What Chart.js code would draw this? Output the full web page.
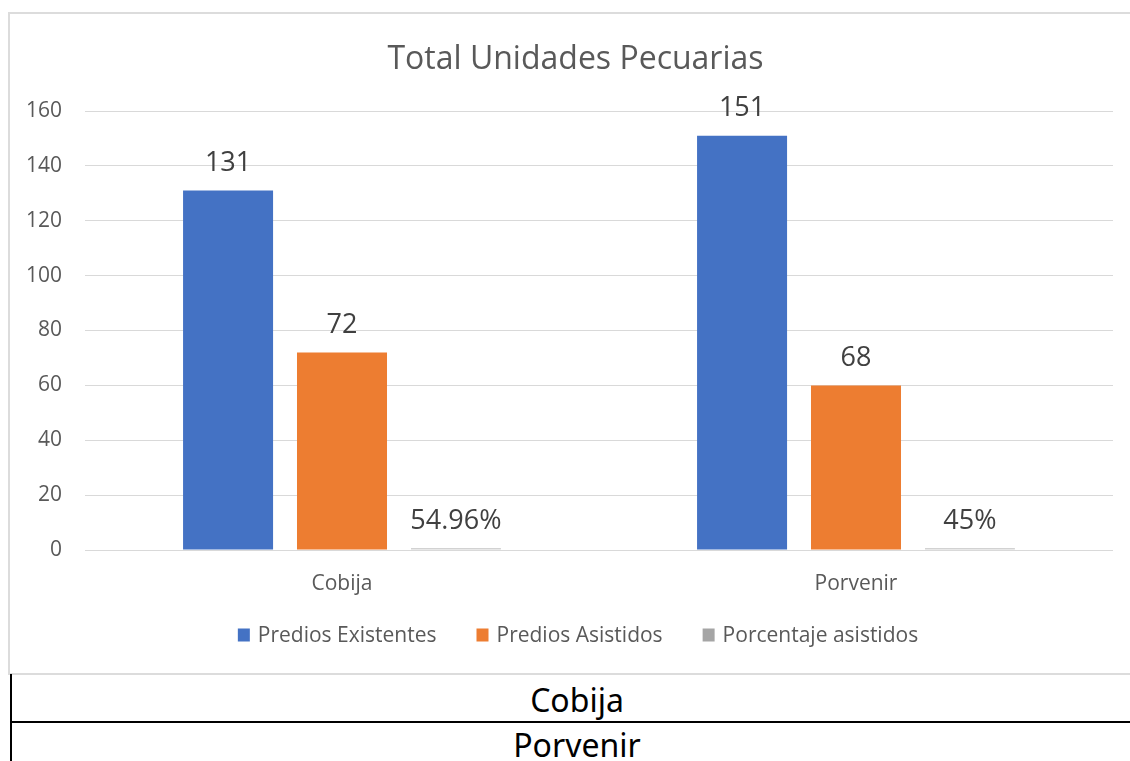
<!DOCTYPE html>
<html>
<head>
<meta charset="utf-8">
<script src="https://cdn.jsdelivr.net/npm/chart.js@4/dist/chart.umd.min.js"></script>
<style>
  html, body { margin: 0; padding: 0; background: #fff; width: 1130px; height: 761px; overflow: hidden; }
  #frame { position: absolute; left: 8px; top: 12px; width: 1134px; height: 659px; border: 2px solid #dcdcdc; }
  #chart { position: absolute; left: 0; top: 0; }
  #vline { position: absolute; left: 10px; top: 674px; width: 2px; height: 90px; background: #000; }
  #hline { position: absolute; left: 10px; top: 721px; width: 1130px; height: 2px; background: #000; }
  .cell { position: absolute; left: 10px; width: 1134px; text-align: center; font-family: "Noto Sans", "Open Sans", sans-serif; font-size: 32px; color: #000; line-height: 40px; }
</style>
</head>
<body>
<div id="frame"><canvas id="chart" width="1134" height="659"></canvas></div>
<div id="vline"></div>
<div id="hline"></div>
<div class="cell" style="top:680px;">Cobija</div>
<div class="cell" style="top:725px;">Porvenir</div>
<script>
const categories = ["Cobija", "Porvenir"];
const seriesNames = ["Predios Existentes", "Predios Asistidos", "Porcentaje asistidos"];
const prediosExistentes = [131, 151];
const prediosAsistidos = [72, 60];
const porcentajeAsistidos = [0.5496, 0.45];
const labelsExistentes = ["131", "151"];
const labelsAsistidos = ["72", "68"];
const labelsPorcentaje = ["54.96%", "45%"];
const yTicks = [0, 20, 40, 60, 80, 100, 120, 140, 160];

const FONT = '"Open Sans", "Noto Sans", sans-serif';
const dataLabels = [labelsExistentes, labelsAsistidos, labelsPorcentaje];

const labelPlugin = {
  id: 'barLabels',
  afterDatasetsDraw(chart) {
    const ctx = chart.ctx;
    ctx.save();
    ctx.font = '27px ' + FONT;
    ctx.fillStyle = '#404040';
    ctx.textAlign = 'center';
    ctx.textBaseline = 'middle';
    chart.data.datasets.forEach((ds, i) => {
      const meta = chart.getDatasetMeta(i);
      meta.data.forEach((el, j) => {
        ctx.fillText(dataLabels[i][j], el.x, el.y - 27);
      });
    });
    ctx.restore();
  }
};

const legendPlugin = {
  id: 'excelLegend',
  afterDraw(chart) {
    const ctx = chart.ctx;
    ctx.save();
    ctx.font = '21px ' + FONT;
    ctx.textBaseline = 'middle';
    ctx.textAlign = 'left';
    const box = 12, boxH = 13, gap = 8, spacing = 40;
    const items = chart.data.datasets.map(ds => ({ text: ds.label, color: ds.backgroundColor, w: ctx.measureText(ds.label).width }));
    const total = items.reduce((s, it) => s + box + gap + it.w, 0) + spacing * (items.length - 1);
    let x = chart.width / 2 + 1 - total / 2;
    const y = 621;
    items.forEach(it => {
      ctx.fillStyle = it.color;
      ctx.fillRect(x, y - boxH / 2, box, boxH);
      ctx.fillStyle = '#595959';
      ctx.fillText(it.text, x + box + gap, y + 1);
      x += box + gap + it.w + spacing;
    });
    ctx.restore();
  }
};

new Chart(document.getElementById('chart'), {
  type: 'bar',
  data: {
    labels: categories,
    datasets: [
      { label: seriesNames[0], data: prediosExistentes, backgroundColor: '#4472C4' },
      { label: seriesNames[1], data: prediosAsistidos, backgroundColor: '#ED7D31' },
      { label: seriesNames[2], data: porcentajeAsistidos, backgroundColor: '#A5A5A5', borderColor: '#d9d9d9', borderWidth: {top: 2, left: 0, right: 0, bottom: 0}, minBarLength: 2 }
    ]
  },
  options: {
    responsive: false,
    animation: false,
    layout: { padding: { left: 28, right: 31, top: 0, bottom: 73 } },
    datasets: { bar: { categoryPercentage: 0.665, barPercentage: 0.79 } },
    plugins: {
      title: {
        display: true,
        text: 'Total Unidades Pecuarias',
        color: '#595959',
        font: { family: FONT, size: 32, weight: 'normal' },
        padding: { top: 26.8, bottom: 31.8 }
      },
      legend: { display: false },
      tooltip: { enabled: false }
    },
    scales: {
      x: {
        grid: { display: false },
        border: { display: false },
        ticks: { color: '#595959', font: { family: FONT, size: 21 }, padding: 13 },
        afterFit(scale) { scale.height = 50; }
      },
      y: {
        min: 0, max: 160,
        afterBuildTicks(scale) { scale.ticks = yTicks.map(v => ({ value: v })); },
        grid: { color: '#d9d9d9', lineWidth: 1, drawTicks: false },
        border: { display: false },
        ticks: { color: '#595959', font: { family: FONT, size: 21 }, padding: 23 },
        afterFit(scale) {
          scale.width = 47;
          scale._computeLabelArea = () => undefined;
        }
      }
    }
  },
  plugins: [labelPlugin, legendPlugin]
});
</script>
</body>
</html>
